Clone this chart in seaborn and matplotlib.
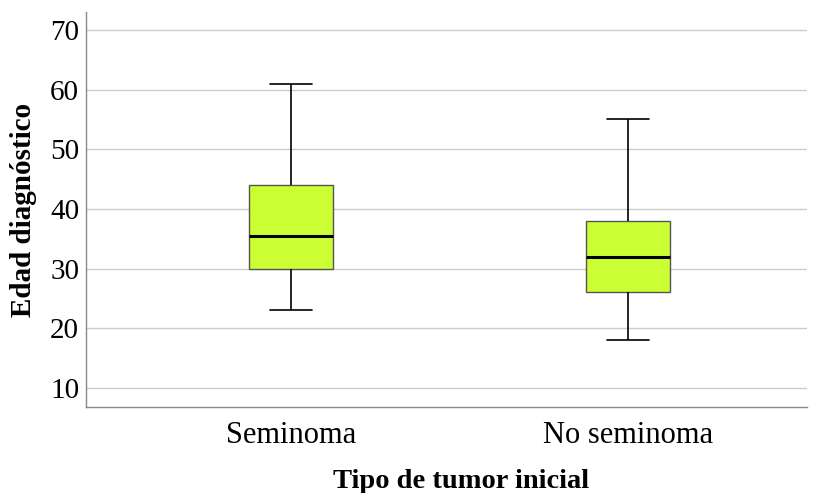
import pandas as pd
import matplotlib
matplotlib.use("Agg")
import matplotlib.pyplot as plt
import seaborn as sns

# five-number summaries (min, Q1, median, Q3, max)
seminoma = [23, 30, 35.5, 44, 61]
no_seminoma = [18, 26, 32, 38, 55]
categories = ["Seminoma", "No seminoma"]

df = pd.DataFrame({
    "tipo": [categories[0]] * len(seminoma) + [categories[1]] * len(no_seminoma),
    "edad": seminoma + no_seminoma,
})

sns.set_style("white")
plt.rcParams["font.family"] = ["Liberation Serif", "DejaVu Serif"]

fig = plt.figure(figsize=(8.21, 4.93), dpi=100)
ax = fig.add_axes([0.1048, 0.1744, 0.983 - 0.1048, 0.9757 - 0.1744])

sns.boxplot(data=df, x="tipo", y="edad", order=categories, ax=ax,
            color="#ccff33", saturation=1, width=0.25, whis=1.5,
            boxprops=dict(edgecolor="#555555", linewidth=1),
            medianprops=dict(color="black", linewidth=2.2),
            whiskerprops=dict(color="black", linewidth=1.2),
            capprops=dict(color="black", linewidth=1.2))

ax.set_ylim(6.8, 73)
ax.set_xlim(-0.608, 1.531)
ax.set_yticks([10, 20, 30, 40, 50, 60, 70])
ax.yaxis.grid(True, color="#cccccc", linewidth=1)
ax.set_axisbelow(True)
for s in ["top", "right"]:
    ax.spines[s].set_visible(False)
for s in ["left", "bottom"]:
    ax.spines[s].set_color("#888888")
    ax.spines[s].set_linewidth(1)
ax.tick_params(length=0, labelsize=21, colors="black", pad=5)
ax.tick_params(axis="x", labelsize=22, pad=10)
ax.set_xlabel("Tipo de tumor inicial", fontsize=20.5, fontweight="bold",
              labelpad=14, color="black")
ax.set_ylabel("Edad diagnóstico", fontsize=21, fontweight="bold",
              labelpad=9, color="black")
ax.xaxis.label.set_x(0.52)

fig.savefig("out.png", dpi=100)
